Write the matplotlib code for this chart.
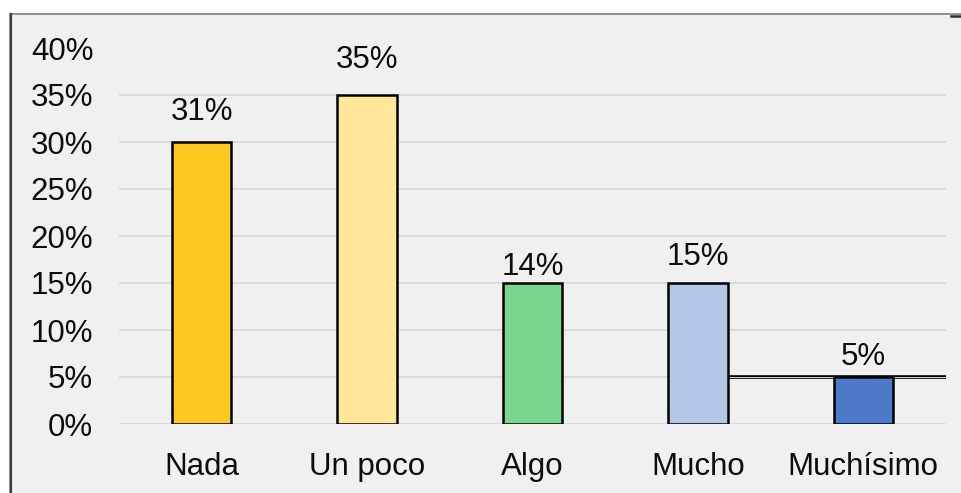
import numpy as np
import matplotlib
matplotlib.use("Agg")
from matplotlib import pyplot as plt
from matplotlib.patches import Rectangle

plt.rcParams['font.family'] = ['Liberation Sans', 'DejaVu Sans']

# data
categories = ["Nada", "Un poco", "Algo", "Mucho", "Muchísimo"]
bar_values = [30, 35, 15, 15, 5]
label_texts = ["31%", "35%", "14%", "15%", "5%"]
label_heights = [32.3, 37.9, 15.9, 16.9, 6.3]
bar_colors = ["#FFC820", "#FFE699", "#7AD68E", "#B4C7E7", "#4E79C9"]
y_ticks = [0, 5, 10, 15, 20, 25, 30, 35, 40]

W, H = 961, 493
fig = plt.figure(figsize=(W / 100, H / 100), dpi=100)
fig.patch.set_facecolor("white")

# outer frame of the chart area (runs off the right and bottom edges)
fig.patches.append(Rectangle((10 / W, -0.05), 1, 1.05 - 14 / H, transform=fig.transFigure,
                             facecolor="#f0f0f0", edgecolor="#7f7f7f", lw=1.2, zorder=0))
fig.add_artist(plt.Line2D([10.5 / W, 10.5 / W], [0, 1 - 14 / H], transform=fig.transFigure,
                          color="#404040", lw=1.6, zorder=0.5))
fig.add_artist(plt.Line2D([951 / W, 1], [1 - 15.5 / H, 1 - 15.5 / H], transform=fig.transFigure,
                          color="#303030", lw=1.8, zorder=0.5))

ax = fig.add_axes([119 / W, 1 - 424 / H, (946 - 119) / W, (424 - 48) / H])
ax.set_facecolor("none")
ax.set_zorder(5)

x = np.arange(len(categories))
ax.bar(x, bar_values, width=0.36, color=bar_colors, edgecolor="black", lw=1.8, zorder=3)

for xi, txt, h in zip(x, label_texts, label_heights):
    ax.text(xi, h, txt, ha="center", va="baseline", fontsize=22.5, color="#0d0d0d", zorder=4)

# gridlines (none at the top edge)
for t in y_ticks[:-1]:
    ax.axhline(t, color="#d9d9d9", lw=1.3, zorder=1)

# stray double line at 5%
ax.hlines(5, x[3] + 0.18, 4.5, color="black", lw=2.6, zorder=2)
ax.hlines(5, x[3] + 0.18, 4.5, color="#f0f0f0", lw=0.6, zorder=2)

ax.set_xlim(-0.5, 4.5)
ax.set_ylim(0, 40)
ax.set_yticks(y_ticks)
ax.set_yticklabels([f"{t}%" for t in y_ticks])
ax.set_xticks(x)
ax.set_xticklabels(categories)
ax.tick_params(axis="y", length=0, pad=18.5, labelsize=22.5, labelcolor="#0d0d0d")
ax.tick_params(axis="x", length=0, pad=20.5, labelsize=22.5, labelcolor="#0d0d0d")
for s in ax.spines.values():
    s.set_visible(False)

fig.savefig("out.png", dpi=100)
